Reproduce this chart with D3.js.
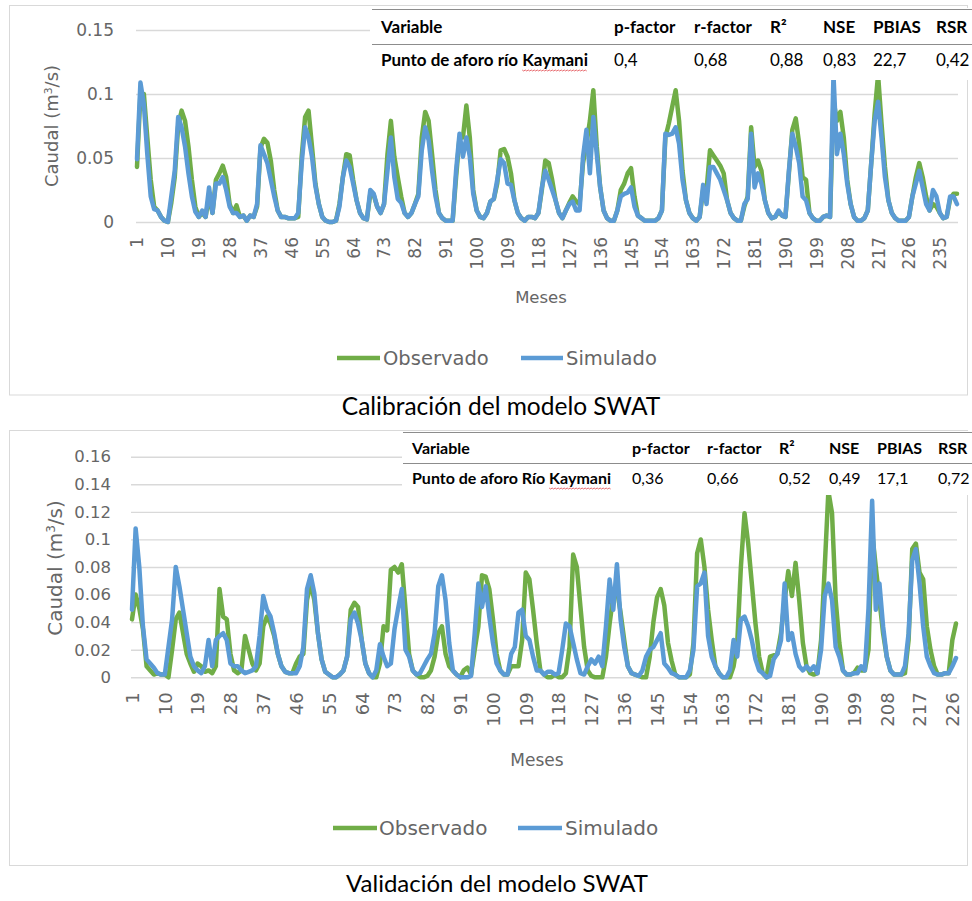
<!DOCTYPE html>
<html>
<head>
<meta charset="utf-8">
<script src="https://cdn.jsdelivr.net/npm/d3@7"></script>
<style>
  body { margin: 0; background: #fff; }
  svg { display: block; }
</style>
</head>
<body>
<script>
(function() {

  // monthly flow (m3/s), calibration period (240 months)
  const calObserved = [
    .043,.100,.100,.066,.033,.012,.009,.004,.001,.000,.015,.035,
    .075,.087,.079,.059,.033,.012,.004,.007,.004,.020,.007,.033,
    .038,.044,.035,.014,.007,.013,.004,.005,.001,.005,.004,.012,
    .058,.065,.062,.048,.025,.009,.004,.004,.003,.003,.003,.004,
    .051,.082,.087,.059,.030,.014,.004,.001,.000,.000,.001,.014,
    .035,.053,.052,.033,.017,.007,.003,.002,.022,.021,.012,.007,
    .014,.053,.079,.051,.035,.020,.007,.004,.007,.014,.022,.066,
    .086,.079,.053,.025,.007,.003,.001,.001,.001,.035,.066,.066,
    .091,.066,.025,.009,.004,.003,.007,.016,.018,.030,.056,.057,
    .051,.038,.017,.007,.003,.001,.004,.004,.003,.007,.025,.048,
    .046,.033,.017,.007,.003,.009,.015,.020,.016,.014,.046,.061,
    .079,.103,.059,.027,.009,.003,.001,.001,.009,.025,.030,.038,
    .042,.020,.005,.003,.001,.001,.001,.001,.003,.009,.066,.077,
    .090,.103,.079,.040,.017,.007,.003,.001,.004,.025,.025,.056,
    .052,.048,.044,.038,.017,.007,.003,.001,.001,.012,.020,.074,
    .043,.048,.040,.017,.007,.003,.004,.008,.005,.004,.038,.072,
    .081,.061,.035,.033,.007,.003,.001,.001,.004,.005,.004,.095,
    .079,.086,.066,.033,.014,.004,.001,.001,.003,.009,.046,.085,
    .115,.077,.043,.017,.007,.003,.001,.001,.001,.004,.020,.035,
    .046,.035,.020,.009,.014,.012,.007,.003,.004,.018,.022,.022
  ];
  const calSimulated = [
    .049,.109,.092,.053,.020,.010,.009,.004,.001,.000,.020,.040,
    .082,.074,.059,.038,.020,.008,.004,.009,.004,.027,.007,.030,
    .030,.035,.025,.012,.007,.007,.004,.005,.001,.005,.004,.014,
    .060,.053,.046,.033,.020,.009,.004,.004,.003,.003,.003,.007,
    .046,.074,.066,.051,.028,.014,.004,.001,.000,.000,.001,.012,
    .035,.048,.043,.030,.017,.007,.003,.002,.025,.022,.012,.007,
    .014,.040,.066,.035,.018,.015,.007,.004,.007,.014,.020,.056,
    .074,.064,.040,.020,.007,.003,.001,.001,.001,.040,.069,.051,
    .066,.051,.022,.009,.004,.003,.007,.016,.018,.033,.049,.046,
    .030,.029,.017,.007,.003,.001,.004,.004,.003,.007,.027,.040,
    .033,.025,.017,.007,.003,.009,.014,.016,.009,.009,.051,.072,
    .038,.082,.053,.027,.009,.003,.001,.001,.009,.020,.022,.023,
    .027,.012,.005,.003,.001,.001,.001,.001,.003,.009,.069,.068,
    .069,.074,.061,.033,.017,.007,.003,.001,.004,.029,.014,.043,
    .043,.038,.033,.025,.017,.007,.003,.001,.001,.014,.018,.069,
    .027,.038,.030,.017,.007,.003,.004,.009,.005,.004,.040,.069,
    .059,.046,.020,.017,.007,.003,.001,.001,.004,.005,.004,.115,
    .053,.069,.053,.030,.014,.004,.001,.001,.003,.009,.046,.079,
    .094,.066,.035,.017,.007,.003,.001,.001,.001,.004,.020,.030,
    .040,.027,.014,.009,.025,.020,.007,.003,.004,.020,.020,.014
  ];

  // validation period (227 months)
  const valObserved = [
    .042,.060,.050,.035,.008,.005,.002,.003,.002,.002,.000,.020,
    .042,.047,.032,.017,.010,.004,.010,.008,.004,.005,.003,.008,
    .064,.044,.042,.017,.005,.003,.005,.030,.020,.010,.005,.010,
    .037,.044,.039,.030,.017,.008,.004,.003,.003,.010,.015,.017,
    .056,.068,.056,.032,.013,.004,.002,.000,.000,.002,.005,.015,
    .049,.054,.051,.027,.010,.003,.000,.000,.010,.037,.034,.078,
    .080,.076,.082,.050,.017,.005,.002,.000,.000,.001,.005,.015,
    .032,.037,.017,.008,.005,.002,.000,.005,.007,.002,.020,.037,
    .074,.073,.064,.042,.017,.005,.002,.002,.008,.008,.008,.027,
    .076,.071,.049,.025,.005,.002,.000,.000,.002,.000,.000,.003,
    .022,.089,.080,.051,.022,.005,.001,.000,.000,.000,.015,.039,
    .059,.064,.047,.027,.008,.003,.002,.001,.000,.000,.015,.040,
    .058,.064,.052,.025,.012,.002,.000,.000,.000,.002,.025,.090,
    .100,.080,.049,.027,.008,.003,.000,.000,.000,.008,.025,.080,
    .119,.097,.068,.039,.015,.003,.000,.015,.016,.017,.032,.056,
    .077,.059,.083,.056,.025,.008,.003,.002,.003,.027,.080,.135,
    .119,.056,.025,.005,.002,.002,.003,.007,.005,.005,.020,.105,
    .080,.056,.032,.015,.005,.002,.002,.002,.003,.027,.093,.097,
    .076,.071,.037,.020,.008,.002,.002,.003,.003,.027,.039
  ];
  const valSimulated = [
    .049,.108,.080,.037,.013,.010,.007,.003,.002,.002,.022,.042,
    .080,.066,.049,.032,.015,.008,.005,.003,.008,.027,.008,.027,
    .030,.032,.027,.010,.008,.008,.005,.003,.004,.005,.008,.030,
    .059,.049,.044,.032,.017,.008,.004,.003,.003,.003,.008,.022,
    .064,.074,.061,.032,.013,.004,.002,.000,.000,.002,.005,.015,
    .042,.047,.039,.027,.010,.003,.000,.005,.024,.015,.008,.010,
    .035,.050,.064,.020,.015,.005,.002,.003,.008,.013,.017,.032,
    .066,.074,.056,.025,.005,.002,.000,.000,.000,.001,.032,.068,
    .051,.066,.044,.025,.010,.005,.002,.002,.017,.022,.047,.049,
    .030,.027,.015,.005,.005,.002,.004,.004,.002,.003,.020,.039,
    .037,.025,.013,.003,.002,.008,.013,.010,.015,.008,.037,.071,
    .049,.082,.042,.022,.008,.003,.002,.001,.005,.015,.020,.022,
    .027,.032,.010,.007,.003,.002,.000,.000,.000,.005,.020,.066,
    .068,.076,.030,.015,.008,.003,.000,.000,.005,.027,.015,.042,
    .044,.037,.027,.013,.005,.003,.000,.001,.013,.017,.027,.068,
    .027,.032,.017,.008,.005,.008,.005,.008,.003,.020,.059,.068,
    .056,.022,.015,.005,.002,.002,.003,.003,.008,.005,.050,.128,
    .049,.068,.037,.015,.005,.002,.002,.002,.008,.032,.085,.093,
    .068,.037,.015,.008,.003,.002,.002,.003,.003,.008,.014
  ];

  const calYTicks = [0, 0.05, 0.1, 0.15];
  const valYTicks = [0, 0.02, 0.04, 0.06, 0.08, 0.1, 0.12, 0.14, 0.16];
  const seriesNames = ["Observado", "Simulado"];
  const seriesColors = ["#70ad47", "#5b9bd5"];
  const tableHeader = ["Variable", "p-factor", "r-factor", "R²", "NSE", "PBIAS", "RSR"];
  const calStats = ["Punto de aforo río Kaymani", "0,4", "0,68", "0,88", "0,83", "22,7", "0,42"];
  const valStats = ["Punto de aforo Río Kaymani", "0,36", "0,66", "0,52", "0,49", "17,1", "0,72"];

  const axisFont = "'DejaVu Sans', sans-serif";
  const tableFont = "Lato, 'Open Sans', sans-serif";
  const axisColor = "#666666";

  let svgContainer = "";

  window.onload = function() {
    svgContainer = d3.select('body').append('svg')
      .attr('width', 972)
      .attr('height', 901);

    svgContainer.append('rect')
      .attr('width', 972)
      .attr('height', 901)
      .attr('fill', '#fff');

    drawPanel({
      observed: calObserved, simulated: calSimulated, yTicks: calYTicks, stats: calStats,
      caption: "Calibración del modelo SWAT",
      box: [9.5, 5.5, 958, 389.5],
      left: 137, right: 957, top: 30, bottom: 222,
      yTickGap: 22, yTickSize: 17,
      yTitle: { x: 52, y: 126, size: 18 },
      xLabelGap: 15, xLabelSize: 17,
      xTitle: { x: 541, y: 303, size: 16.5 },
      legend: { y: 358, size: 19.5, items: [[337, 380, 383], [521, 563, 566]] },
      captionPos: { x: 501, y: 415, size: 24.5 },
      table: { x: 370, y: 8, h: 72, line1: 9, line2: 44, lineX: 372, head: 33, row: 66,
               cols: [381, 614, 694, 770, 823, 873, 936], size: 17 }
    });

    drawPanel({
      observed: valObserved, simulated: valSimulated, yTicks: valYTicks, stats: valStats,
      caption: "Validación del modelo SWAT",
      box: [9.5, 430.5, 958, 435],
      left: 132, right: 956, top: 456.7, bottom: 677.3,
      yTickGap: 20, yTickSize: 16.5,
      yTitle: { x: 55, y: 568, size: 20 },
      xLabelGap: 15, xLabelSize: 18,
      xTitle: { x: 537, y: 766, size: 17 },
      legend: { y: 828, size: 20, items: [[333, 377, 379], [518, 562, 565]] },
      captionPos: { x: 497, y: 892, size: 24 },
      table: { x: 402, y: 431, h: 64, line1: 432, line2: 463, lineX: 403, head: 454, row: 484,
               cols: [412, 632, 707, 779, 829, 877, 938], size: 16 }
    });
  }

  // one chart block: frame, grid, axes, two lines, legend, stats table and caption
  function drawPanel(p) {
    let g = svgContainer.append('g');

    g.append('rect')
      .attr('x', p.box[0])
      .attr('y', p.box[1])
      .attr('width', p.box[2])
      .attr('height', p.box[3])
      .attr('fill', 'none')
      .attr('stroke', '#d9d9d9');

    let months = d3.range(1, p.observed.length + 1);

    let xScale = d3.scaleLinear()
      .domain([1, months.length])
      .range([p.left, p.right]);

    let yScale = d3.scaleLinear()
      .domain([0, d3.max(p.yTicks)])
      .range([p.bottom, p.top]);

    // horizontal gridlines with the y labels
    let yAxis = d3.axisLeft(yScale)
      .tickValues(p.yTicks)
      .tickSize(-(p.right - p.left + 2))
      .tickPadding(p.yTickGap)
      .tickFormat((d) => String(d));

    let ya = g.append('g')
      .attr('transform', `translate(${p.left - 1}, 0)`)
      .call(yAxis);
    ya.select('.domain').remove();
    ya.selectAll('line')
      .attr('stroke', '#d9d9d9')
      .attr('stroke-width', 1.4);
    ya.selectAll('text')
      .attr('fill', axisColor)
      .style('font-family', axisFont)
      .style('font-size', p.yTickSize + 'px');

    // month labels every 9 months, rotated
    let xAxis = d3.axisBottom(xScale)
      .tickValues(months.filter((m) => (m - 1) % 9 === 0))
      .tickSize(0)
      .tickFormat(d3.format('d'));

    let xa = g.append('g')
      .attr('transform', `translate(0, ${p.bottom})`)
      .call(xAxis);
    xa.select('.domain').remove();
    xa.selectAll('text')
      .attr('transform', 'rotate(-90)')
      .attr('x', -p.xLabelGap)
      .attr('y', 0)
      .attr('dy', '0.35em')
      .attr('fill', axisColor)
      .style('text-anchor', 'end')
      .style('font-family', axisFont)
      .style('font-size', p.xLabelSize + 'px');

    // lines
    let line = d3.line()
      .x((d, i) => xScale(i + 1))
      .y((d) => yScale(d));

    [p.observed, p.simulated].forEach(function(series, i) {
      g.append('path')
        .datum(series)
        .attr('d', line)
        .attr('fill', 'none')
        .attr('stroke', seriesColors[i])
        .attr('stroke-width', 4.5)
        .attr('stroke-linejoin', 'round')
        .attr('stroke-linecap', 'round');
    });

    // axis titles
    let yt = g.append('text')
      .attr('transform', `translate(${p.yTitle.x}, ${p.yTitle.y}) rotate(-90)`)
      .attr('dy', '0.35em')
      .attr('text-anchor', 'middle')
      .attr('fill', axisColor)
      .style('font-family', axisFont)
      .style('font-size', p.yTitle.size + 'px');
    yt.append('tspan').text('Caudal (m');
    yt.append('tspan').text('3').attr('baseline-shift', 'super').style('font-size', (p.yTitle.size * 0.6) + 'px');
    yt.append('tspan').text('/s)');

    g.append('text')
      .attr('x', p.xTitle.x)
      .attr('y', p.xTitle.y)
      .attr('text-anchor', 'middle')
      .attr('fill', axisColor)
      .style('font-family', axisFont)
      .style('font-size', p.xTitle.size + 'px')
      .text('Meses');

    // legend
    p.legend.items.forEach(function(item, i) {
      g.append('line')
        .attr('x1', item[0])
        .attr('x2', item[1])
        .attr('y1', p.legend.y)
        .attr('y2', p.legend.y)
        .attr('stroke', seriesColors[i])
        .attr('stroke-width', 4.5);
      g.append('text')
        .attr('x', item[2])
        .attr('y', p.legend.y)
        .attr('dy', '0.35em')
        .attr('fill', axisColor)
        .style('font-family', axisFont)
        .style('font-size', p.legend.size + 'px')
        .text(seriesNames[i]);
    });

    drawTable(p.table, p.stats);

    svgContainer.append('text')
      .attr('x', p.captionPos.x)
      .attr('y', p.captionPos.y)
      .attr('text-anchor', 'middle')
      .attr('fill', '#000')
      .style('font-family', tableFont)
      .style('font-size', p.captionPos.size + 'px')
      .text(p.caption);
  }

  // the small stats table pasted over the top right of the chart
  function drawTable(t, stats) {
    svgContainer.append('rect')
      .attr('x', t.x)
      .attr('y', t.y)
      .attr('width', 972 - t.x)
      .attr('height', t.h)
      .attr('fill', '#fff');

    [t.line1, t.line2].forEach(function(y) {
      svgContainer.append('line')
        .attr('x1', t.lineX)
        .attr('x2', 972)
        .attr('y1', y + 0.5)
        .attr('y2', y + 0.5)
        .attr('stroke', '#8c8c8c')
        .attr('stroke-width', 1);
    });

    tableHeader.forEach(function(h, i) {
      svgContainer.append('text')
        .attr('x', t.cols[i])
        .attr('y', t.head)
        .style('font-family', tableFont)
        .style('font-weight', 'bold')
        .style('font-size', t.size + 'px')
        .text(h);
    });

    stats.forEach(function(s, i) {
      let txt = svgContainer.append('text')
        .attr('x', t.cols[i])
        .attr('y', t.row)
        .style('font-family', tableFont)
        .style('font-weight', i === 0 ? 'bold' : 'normal')
        .style('font-size', t.size + 'px')
        .text(s);

      // red spell-check squiggle under "Kaymani"
      if (i === 0) {
        let node = txt.node();
        let k = s.indexOf('Kaymani');
        let x0 = t.cols[0] + node.getSubStringLength(0, k);
        let x1 = x0 + node.getSubStringLength(k, 7);
        let pts = d3.range(x0, x1, 1.5).map((x, j) => [x, t.row + 4 + (j % 2)]);
        svgContainer.append('path')
          .attr('d', d3.line()(pts))
          .attr('fill', 'none')
          .attr('stroke', '#e0464b')
          .attr('stroke-width', 0.8);
      }
    });
  }

})();
</script>
</body>
</html>
